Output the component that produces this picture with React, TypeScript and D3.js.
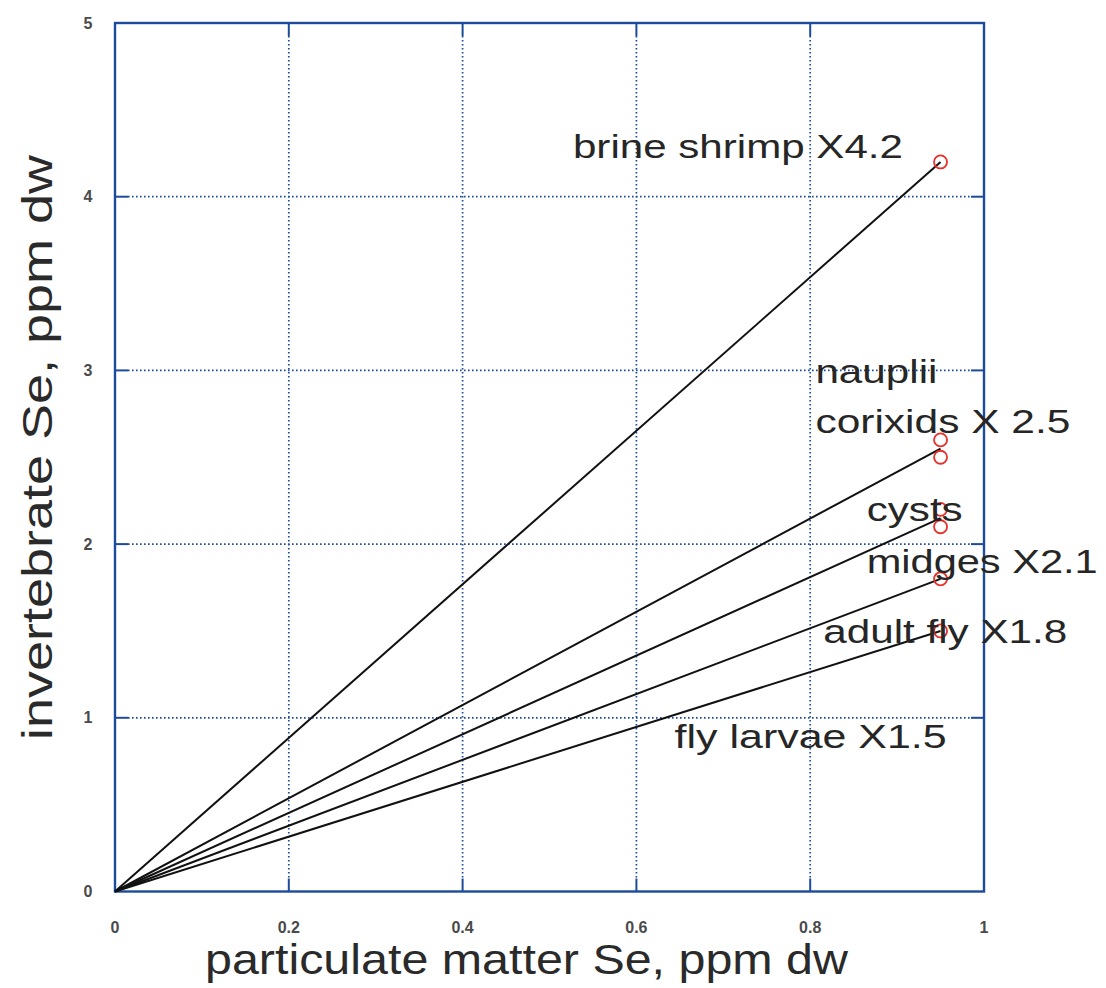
import React from "react";
import * as d3 from "d3";

// ---- data ----
const xTicks = [0, 0.2, 0.4, 0.6, 0.8, 1];
const yTicks = [0, 1, 2, 3, 4, 5];
const xTickLabels = ["0", "0.2", "0.4", "0.6", "0.8", "1"];
const yTickLabels = ["0", "1", "2", "3", "4", "5"];

const pmSe = 0.95; // particulate matter Se where the invertebrates were measured
const lineEnds = [4.2, 2.55, 2.15, 1.8, 1.5];
const pointValues = [4.2, 2.6, 2.5, 2.2, 2.1, 1.8, 1.5];

const labelTexts = [
  "brine shrimp X4.2",
  "nauplii",
  "corixids X 2.5",
  "cysts",
  "midges X2.1",
  "adult fly X1.8",
  "fly larvae X1.5",
];
const labelX = [0.527, 0.806, 0.806, 0.865, 0.865, 0.815, 0.644];
const labelY = [4.22, 2.925, 2.64, 2.135, 1.835, 1.43, 0.826];

const xTitle = "particulate matter Se, ppm dw";
const yTitle = "invertebrate Se, ppm dw";

// ---- layout / style ----
const W = 1106;
const H = 988;
const left = 115;
const right = 984;
const top = 23;
const bottom = 891.5;
const axisColor = "#1c4b9b";
const labelLengths = [330, 122, 255, 96, 231, 244, 272];

export default function App() {
  const x = d3.scaleLinear().domain([0, 1]).range([left, right]);
  const y = d3.scaleLinear().domain([0, 5]).range([bottom, top]);
  const line = d3
    .line<[number, number]>()
    .x((d) => x(d[0]))
    .y((d) => y(d[1]));
  const tickLen = 13;
  const font = "'Liberation Sans', Arial, Helvetica, sans-serif";

  return (
    <svg
      width={W}
      height={H}
      style={{ position: "absolute", left: 0, top: 0, background: "#fff" }}
      fontFamily={font}
    >
      {/* grid */}
      {xTicks.slice(1, -1).map((t) => (
        <line
          key={"gx" + t}
          x1={x(t)}
          x2={x(t)}
          y1={top + tickLen}
          y2={bottom - tickLen}
          stroke={axisColor}
          strokeWidth={1.7}
          strokeDasharray="1.6,2.4"
        />
      ))}
      {yTicks.slice(1, -1).map((t) => (
        <line
          key={"gy" + t}
          x1={left + tickLen}
          x2={right - tickLen}
          y1={y(t)}
          y2={y(t)}
          stroke={axisColor}
          strokeWidth={1.7}
          strokeDasharray="1.6,2.4"
        />
      ))}
      {/* ticks */}
      {xTicks.slice(1, -1).map((t) => (
        <g key={"tx" + t} stroke={axisColor} strokeWidth={2}>
          <line x1={x(t)} x2={x(t)} y1={bottom} y2={bottom - tickLen} />
          <line x1={x(t)} x2={x(t)} y1={top} y2={top + tickLen} />
        </g>
      ))}
      {yTicks.slice(1, -1).map((t) => (
        <g key={"ty" + t} stroke={axisColor} strokeWidth={2}>
          <line x1={left} x2={left + tickLen} y1={y(t)} y2={y(t)} />
          <line x1={right} x2={right - tickLen} y1={y(t)} y2={y(t)} />
        </g>
      ))}
      {/* frame */}
      <rect
        x={left}
        y={top}
        width={right - left}
        height={bottom - top}
        fill="none"
        stroke={axisColor}
        strokeWidth={2.4}
      />
      {/* tick labels */}
      {xTicks.map((t, i) => (
        <text
          key={"xl" + t}
          x={x(t)}
          y={933}
          textAnchor="middle"
          fontSize={16}
          fontWeight="bold"
          fill="#4a4a4a"
        >
          {xTickLabels[i]}
        </text>
      ))}
      {yTicks.map((t, i) => (
        <text
          key={"yl" + t}
          x={88}
          y={y(t)}
          dy="0.35em"
          textAnchor="middle"
          fontSize={16}
          fontWeight="bold"
          fill="#4a4a4a"
        >
          {yTickLabels[i]}
        </text>
      ))}
      {/* lines */}
      {lineEnds.map((v, i) => (
        <path
          key={"ln" + i}
          d={line([
            [0, 0],
            [pmSe, v],
          ]) || ""}
          stroke="#111"
          strokeWidth={2}
          fill="none"
        />
      ))}
      {/* points */}
      {pointValues.map((v, i) => (
        <circle
          key={"pt" + i}
          cx={x(pmSe)}
          cy={y(v)}
          r={6.5}
          fill="none"
          stroke="#e8302a"
          strokeWidth={1.8}
        />
      ))}
      {/* annotation labels */}
      {labelTexts.map((t, i) => (
        <text
          key={"lab" + i}
          x={x(labelX[i])}
          y={y(labelY[i])}
          fontSize={34}
          fill="#262626"
          textLength={labelLengths[i]}
          lengthAdjust="spacingAndGlyphs"
        >
          {t}
        </text>
      ))}
      {/* axis titles */}
      <text
        x={205}
        y={974}
        fontSize={42}
        fill="#2a2a2a"
        textLength={643}
        lengthAdjust="spacingAndGlyphs"
      >
        {xTitle}
      </text>
      <text
        transform={`translate(52, ${(160 + 735) / 2}) rotate(-90)`}
        textAnchor="middle"
        fontSize={42}
        fill="#2a2a2a"
        textLength={585}
        lengthAdjust="spacingAndGlyphs"
      >
        {yTitle}
      </text>
    </svg>
  );
}
